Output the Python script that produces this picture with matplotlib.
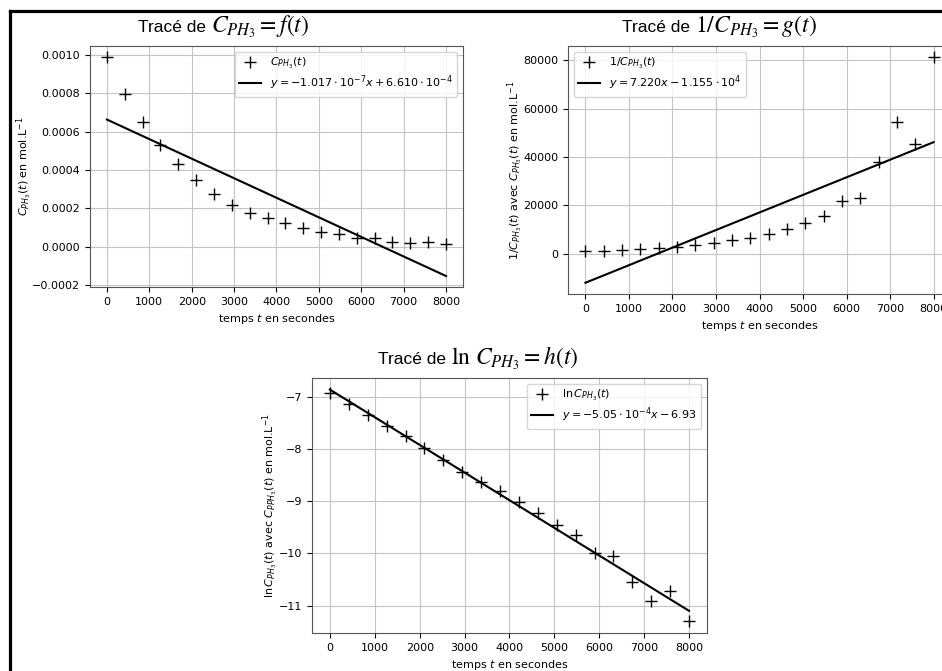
import numpy as np
import matplotlib
matplotlib.use("Agg")
import matplotlib.pyplot as plt
from matplotlib.lines import Line2D

# temps (s) et concentrations en PH3 (mol/L)
t = [0, 421, 842, 1263, 1684, 2105, 2526, 2947, 3368, 3789,
     4211, 4632, 5053, 5474, 5895, 6316, 6737, 7158, 7579, 8000]
c_ph3 = [9.90e-4, 7.95e-4, 6.52e-4, 5.28e-4, 4.32e-4, 3.46e-4, 2.76e-4, 2.19e-4, 1.78e-4, 1.50e-4,
         1.22e-4, 9.9e-5, 7.9e-5, 6.45e-5, 4.62e-5, 4.33e-5, 2.64e-5, 1.83e-5, 2.21e-5, 1.23e-5]

title_math = [r"$C_{PH_3} = f(t)$",
              r"$1/C_{PH_3} = g(t)$",
              r"$\ln\,C_{PH_3} = h(t)$"]
point_labels = [r"$C_{PH_3}(t)$", r"$1/C_{PH_3}(t)$", r"$\ln C_{PH_3}(t)$"]
fit_labels = [r"$y = -1.017\cdot 10^{-7}x + 6.610\cdot 10^{-4}$",
              r"$y = 7.220x - 1.155\cdot 10^{4}$",
              r"$y = -5.05\cdot 10^{-4}x - 6.93$"]
ylabels = [r"$C_{PH_3}(t)$ en mol.L$^{-1}$",
           r"$1/C_{PH_3}(t)$ avec $C_{PH_3}(t)$ en mol.L$^{-1}$",
           r"$\ln C_{PH_3}(t)$ avec $C_{PPH_3}(t)$ en mol.L$^{-1}$"]

t = np.array(t)
c = np.array(c_ph3)
series = [c, 1 / c, np.log(c)]

plt.rcParams['font.size'] = 8

fig = plt.figure(figsize=(9.42, 6.71), dpi=100)
renderer = fig.canvas.get_renderer()

positions = [[0.0955, 0.5723, 0.396, 0.3592],
             [0.603, 0.5618, 0.4066, 0.3696],
             [0.3312, 0.0566, 0.4193, 0.380]]
legend_locs = ["upper right", "upper left", "upper right"]
title_pos = [(0.1465, 0.952), (0.660, 0.952), (0.401, 0.4575)]

for i in range(3):
    ax = fig.add_axes(positions[i])
    y = series[i]
    ax.plot(t, y, '+', color='black', markersize=8, markeredgewidth=1.0, label=point_labels[i])
    # droite de regression
    slope, intercept = np.polyfit(t, y, 1)
    ax.plot(t, slope * t + intercept, color='black', lw=1.5, label=fit_labels[i])
    ax.set_xticks(range(0, 8001, 1000))
    ax.grid(True, color='#c4c4c4')
    ax.set_xlabel(r"temps $t$ en secondes")
    ax.set_ylabel(ylabels[i], labelpad=-1)
    ax.legend(loc=legend_locs[i], labelspacing=0.25)
    for sp in ax.spines.values():
        sp.set_color('#555555')

    # titre : texte sans-serif + formule en serif plus grande
    x0, y0 = title_pos[i]
    txt = fig.text(x0, y0, "Tracé de ", fontsize=12.5, family='Liberation Sans',
                   ha='left', va='baseline')
    bb = txt.get_window_extent(renderer)
    fig.text(bb.x1 / fig.bbox.width, y0, title_math[i], fontsize=17,
             math_fontfamily='stix', ha='left', va='baseline')

# cadre noir de la capture
fig.add_artist(Line2D([9.5 / 942, 9.5 / 942], [0, 1 - 10.5 / 671], color='black', lw=2.3))
fig.add_artist(Line2D([9.5 / 942, 1], [1 - 10.5 / 671, 1 - 10.5 / 671], color='black', lw=2.3))

fig.savefig("out.png", dpi=100)
